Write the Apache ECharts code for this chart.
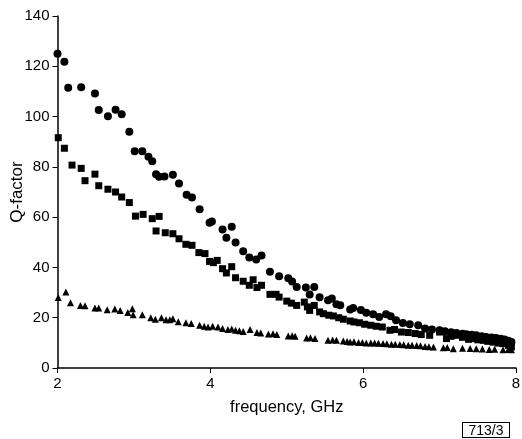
<!DOCTYPE html>
<html>
<head>
<meta charset="utf-8">
<script src="https://cdn.jsdelivr.net/npm/echarts@6/dist/echarts.min.js"></script>
<style>
html,body{margin:0;padding:0;background:#fff;}
#c{width:522px;height:439px;}
#tag{position:absolute;left:462px;top:422px;width:46px;height:14px;border:1px solid #000;font-family:"Liberation Sans",Arial,sans-serif;font-size:14px;line-height:14px;text-align:center;color:#000;}
</style>
</head>
<body>
<div id="c"></div>
<div id="tag">713/3</div>
<script>
var xTicks = [2, 4, 6, 8];
var yTicks = [0, 20, 40, 60, 80, 100, 120, 140];

var circleF = [2.00,2.09,2.14,2.31,2.49,2.54,2.66,2.76,2.84,2.94,3.01,3.11,3.19,3.24,3.29,3.33,3.40,3.51,3.59,3.69,3.76,3.86,3.99,4.02,4.16,4.21,4.28,4.33,4.43,4.51,4.60,4.67,4.78,4.90,5.02,5.07,5.13,5.25,5.30,5.36,5.43,5.54,5.59,5.65,5.70,5.83,5.87,5.97,6.04,6.13,6.21,6.30,6.36,6.43,6.52,6.61,6.72,6.81,6.90,7.00,7.07,7.15,7.22,7.30,7.35,7.42,7.48,7.55,7.61,7.68,7.74,7.80,7.85,7.90,7.94];
var circleQ = [125,121.8,111.5,111.7,109.2,102.6,100.1,102.7,100.9,94,86.2,86.2,84,82.2,77.1,76.1,76.2,76.9,73.4,68.9,67.8,63.1,57.8,58.3,55.1,51.8,56.2,49.9,46.4,43.9,43.2,44.7,38.3,36.5,35.7,34.4,32.2,32.0,29.2,32.2,28.1,26.9,27.6,25.4,25.0,23.3,23.9,23.1,22.0,21.4,20.3,21.4,20.6,19.0,17.9,17.4,17.0,15.7,15.3,15.0,14.6,14.2,13.9,13.6,13.4,13.2,13.0,12.6,12.3,12.1,11.9,11.6,11.3,10.8,10.3];

var squareF = [2.01,2.09,2.19,2.31,2.36,2.49,2.54,2.66,2.76,2.84,2.94,3.02,3.12,3.24,3.29,3.33,3.41,3.51,3.59,3.68,3.76,3.85,3.93,3.99,4.04,4.09,4.16,4.21,4.28,4.33,4.43,4.51,4.56,4.61,4.67,4.78,4.86,4.90,5.00,5.06,5.13,5.23,5.27,5.30,5.36,5.43,5.48,5.55,5.61,5.68,5.74,5.83,5.88,5.95,6.02,6.10,6.17,6.25,6.35,6.41,6.50,6.59,6.68,6.76,6.87,7.00,7.09,7.15,7.22,7.30,7.38,7.44,7.50,7.57,7.63,7.70,7.77,7.83,7.90,7.94];
var squareQ = [91.6,87.4,80.7,79.4,74.5,77.1,72.5,71.1,70.0,68.0,65.8,60.4,61.1,59.4,54.5,60.3,53.8,53.4,51.4,49.2,48.8,45.9,45.5,42.4,41.9,42.8,39.5,37.8,40.3,35.9,34.5,32.9,35.1,32.0,32.9,29.3,29.3,28.2,26.6,25.8,24.9,26.2,24.3,22.9,24.9,22.3,21.6,21.0,20.7,20.0,19.4,18.7,18.3,18.0,17.4,17.0,16.6,16.3,15.0,15.3,14.3,14.1,13.7,13.3,13.0,14.3,11.7,12.6,13.0,12.2,11.4,11.7,11.2,11.0,10.6,10.3,9.9,9.7,9.0,8.4];

var triF = [2.01,2.11,2.17,2.30,2.36,2.49,2.54,2.65,2.75,2.82,2.92,2.98,2.99,3.11,3.22,3.28,3.36,3.42,3.47,3.51,3.58,3.68,3.75,3.86,3.92,3.97,4.03,4.10,4.16,4.23,4.28,4.33,4.38,4.43,4.52,4.61,4.66,4.76,4.82,4.87,5.02,5.07,5.11,5.26,5.31,5.37,5.54,5.60,5.65,5.74,5.79,5.83,5.88,5.94,5.99,6.04,6.10,6.15,6.20,6.26,6.31,6.37,6.42,6.48,6.53,6.59,6.64,6.70,6.75,6.81,6.86,6.92,7.05,7.10,7.18,7.30,7.40,7.48,7.56,7.65,7.72,7.83,7.90,7.94];
var triQ = [28.0,30.2,26.0,24.9,24.8,23.9,23.9,23.2,23.5,22.9,22.1,23.6,21.2,21.2,20.0,19.4,20.0,19.2,19.2,19.6,18.4,18.0,17.7,17.0,16.6,16.3,16.6,16.3,15.7,15.3,15.5,15.0,14.8,14.5,15.3,14.1,13.9,13.5,13.6,13.3,12.7,12.8,12.6,11.9,12.0,11.7,11.0,11.1,11.0,10.7,10.5,10.3,10.4,10.1,10.1,9.9,9.9,9.9,9.8,9.7,9.6,9.4,9.4,9.3,9.2,9.0,9.0,8.9,8.8,8.6,8.5,8.4,8.1,8.2,7.7,7.9,7.8,7.7,7.6,7.4,7.5,7.3,7.4,7.3];

function pairs(a, b){ var r=[]; for (var i=0;i<a.length;i++) r.push([a[i], b[i]]); return r; }

var chart = echarts.init(document.getElementById('c'));
var font = '"Liberation Sans", Arial, sans-serif';
chart.setOption({
  animation: false,
  grid: {left: 57.5, right: 6, top: 16, bottom: 71, containLabel: false, outerBoundsMode: 'none'},
  xAxis: {
    type: 'value', min: 2, max: 8, interval: 2,
    name: 'frequency, GHz', nameLocation: 'middle', nameGap: 31, nameMoveOverlap: false,
    nameTextStyle: {color: '#000', fontFamily: font, fontSize: 16.5},
    axisLine: {lineStyle: {color: '#000', width: 1.5}},
    axisTick: {show: true, inside: false, length: 5, lineStyle: {color: '#000'}},
    axisLabel: {color: '#000', fontFamily: font, fontSize: 15, margin: 8},
    splitLine: {show: false}
  },
  yAxis: {
    type: 'value', min: 0, max: 140, interval: 20,
    name: 'Q-factor', nameLocation: 'middle', nameGap: 32, nameRotate: 90, nameMoveOverlap: false,
    nameTextStyle: {color: '#000', fontFamily: font, fontSize: 17},
    axisLine: {show: true, lineStyle: {color: '#000', width: 1.5}},
    axisTick: {show: true, inside: false, length: 5, lineStyle: {color: '#000'}},
    axisLabel: {color: '#000', fontFamily: font, fontSize: 15, margin: 8},
    splitLine: {show: false}
  },
  series: [
    {type: 'scatter', data: pairs(circleF, circleQ), symbol: 'circle', symbolSize: 8, itemStyle: {color: '#000', opacity: 1}},
    {type: 'scatter', data: pairs(squareF, squareQ), symbol: 'rect', symbolSize: 7, itemStyle: {color: '#000', opacity: 1}},
    {type: 'scatter', data: pairs(triF, triQ), symbol: 'triangle', symbolSize: 7, itemStyle: {color: '#000', opacity: 1}}
  ]
});
</script>
</body>
</html>
